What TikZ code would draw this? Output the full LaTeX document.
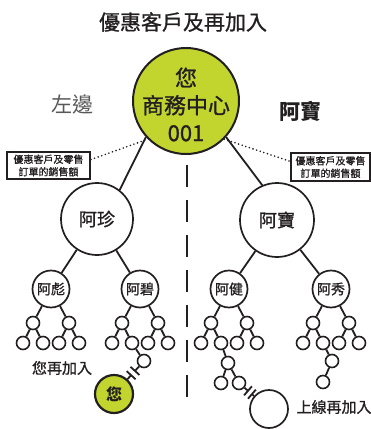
\documentclass[tikz,border=0pt]{standalone}
\usepackage{fontspec}
\setmainfont{Noto Sans CJK TC}
\newfontfamily\medfont{Noto Sans CJK TC}[FakeBold=1]
\usetikzlibrary{positioning}
\usetikzlibrary{calc}
\definecolor{limegreen}{RGB}{193,213,46}
\definecolor{inkgray}{RGB}{35,31,32}
\definecolor{softgray}{RGB}{88,88,88}

\begin{document}
\begin{tikzpicture}[x=1pt,y=-1pt,
		every node/.style={text=inkgray},
		member/.style={circle,draw=inkgray,line width=1.7pt,fill=white,inner sep=0pt},
		bigmember/.style={member,minimum size=72pt,font=\medfont\fontsize{18}{18}\selectfont},
		midmember/.style={member,minimum size=37pt,font=\medfont\fontsize{14}{14}\selectfont},
		leaf/.style={member,minimum size=13pt,line width=1.6pt},
		link/.style={draw=inkgray,line width=1.8pt},
		salesnote/.style={draw=inkgray,line width=2pt,align=center,inner sep=0pt,font=\medfont\fontsize{10}{12.5}\selectfont},
		hint/.style={draw=inkgray,line width=1.8pt,line cap=round,dash pattern=on 0pt off 3.8pt}
		]
		\useasboundingbox (0,0) rectangle (371,429);
		
		% headings
		\node (title) at (183,22) {\medfont\fontsize{21}{21}\selectfont 優惠客戶及再加入};
		\node (leftside) [text=softgray] at (73,105) {\fontsize{21}{21}\selectfont 左邊};
		\node (rightside) at (300,111) {\fontsize{21}{21}\selectfont\bfseries 阿寶};
		
		% divider
		\coordinate (divtop) at (187,165);
		\coordinate (divbot) at (187,397);
		\draw [inkgray, line width=2pt, dash pattern=on 22pt off 13pt] (divtop) -- (divbot);
		
		% main tree
		\node (main) [member, fill=limegreen, line width=2pt, minimum size=106pt] at (186,101) {};
		\node (maintext) [align=center, font=\medfont\fontsize{22}{27.5}\selectfont] at (186,104.5) {您\\商務中心\\001};
		\node (ajen) [bigmember] at (97,219) {阿珍};
		\node (abao) [bigmember, minimum size=74pt] at (277,220) {阿寶};
		\node (abiao) [midmember] at (51,289) {阿彪};
		\node (abi) [midmember] at (140,289) {阿碧};
		\node (ajian) [midmember] at (229,289) {阿健};
		\node (axiu) [midmember] at (331,289) {阿秀};
		\path [link]
		(main.222) -- (ajen.52)
		(main.-42) -- (abao.113)
		(ajen) -- (abiao)
		(ajen) -- (abi)
		(abao) -- (ajian)
		(abao) -- (axiu);
		
		% sales notes
		\node (lnote) [salesnote, minimum width=83pt, minimum height=27pt] at (48.5,165.5) {優惠客戶及零售\\訂單的銷售額};
		\node (rnote) [salesnote, minimum width=79pt, minimum height=28pt] at (330.5,167) {優惠客戶及零售\\訂單的銷售額};
		\path [hint] (lnote.8) -- (main.225);
		\path [hint] (main.-45) -- (rnote.172);
		
		% small downlines
		\foreach \p in {abiao,abi,ajian,axiu}{
			\node (\p-l) [leaf] at ($(\p)+(-18,34)$) {};
			\node (\p-r) [leaf] at ($(\p)+(18,34)$) {};
			\node (\p-ll) [leaf] at ($(\p-l)+(-10,20)$) {};
			\node (\p-lr) [leaf] at ($(\p-l)+(10,20)$) {};
			\node (\p-rl) [leaf] at ($(\p-r)+(-10,20)$) {};
			\node (\p-rr) [leaf] at ($(\p-r)+(10,20)$) {};
			\path [link] (\p) -- (\p-l) (\p) -- (\p-r)
			(\p-l) -- (\p-ll) (\p-l) -- (\p-lr)
			(\p-r) -- (\p-rl) (\p-r) -- (\p-rr);
		}
		
		% you join again
		\node (bix) [leaf] at (144,361) {};
		\node (you) [member, fill=limegreen, line width=2.2pt, minimum size=38pt, font=\fontsize{16}{16}\selectfont\bfseries] at (114,394) {您};
		\node (joinlabel) at (62,368) {\medfont\fontsize{15}{15}\selectfont 您再加入};
		\path [link] (abi-lr) -- (bix);
		\coordinate (youcut1) at ($(bix)!0.30!(you)$);
		\coordinate (youcut2) at ($(bix)!0.43!(you)$);
		\path [link] (bix) -- (youcut1) (youcut2) -- (you)
		($(youcut1)!6pt!90:(you)$) -- ($(youcut1)!6pt!-90:(you)$)
		($(youcut2)!6pt!90:(you)$) -- ($(youcut2)!6pt!-90:(you)$);
		
		% upline joins again
		\node (jianx) [leaf] at (228,363) {};
		\node (jianxl) [leaf] at (221,383) {};
		\node (jianxr) [leaf] at (239,383) {};
		\node (upline) [member, minimum size=38pt] at (269,409) {};
		\node (uplabel) [anchor=west] at (293,407) {\medfont\fontsize{15}{15}\selectfont 上線再加入};
		\path [link] (ajian-lr) -- (jianx) (jianx) -- (jianxl) (jianx) -- (jianxr);
		\coordinate (upcut1) at ($(jianxr)!0.30!(upline)$);
		\coordinate (upcut2) at ($(jianxr)!0.43!(upline)$);
		\path [link] (jianxr) -- (upcut1) (upcut2) -- (upline)
		($(upcut1)!6pt!90:(upline)$) -- ($(upcut1)!6pt!-90:(upline)$)
		($(upcut2)!6pt!90:(upline)$) -- ($(upcut2)!6pt!-90:(upline)$);
		
		% xiu chain
		\node (xiux) [leaf] at (332,361) {};
		\node (xiuxl) [leaf] at (323,382) {};
		\path [link] (axiu-lr) -- (xiux) (xiux) -- (xiuxl);
	\end{tikzpicture}
\end{document}
